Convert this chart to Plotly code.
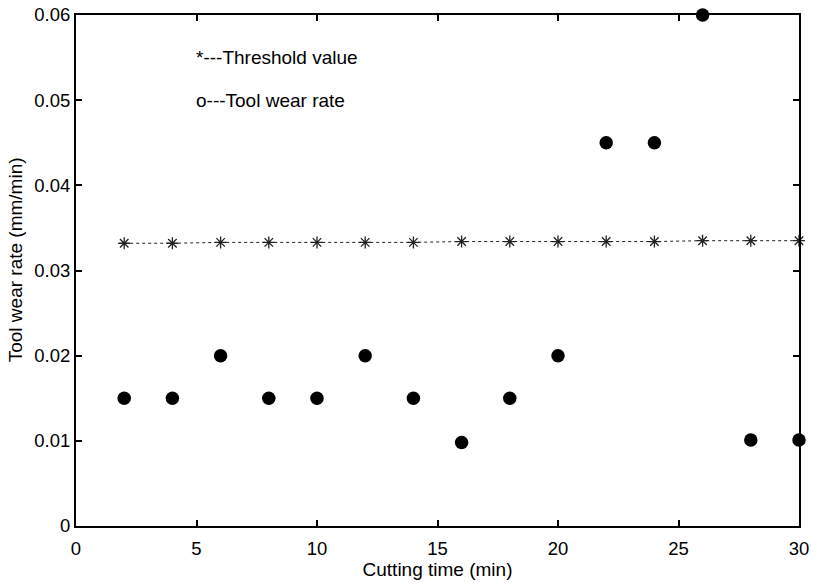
import plotly.graph_objects as go

cutting_time = [2, 4, 6, 8, 10, 12, 14, 16, 18, 20, 22, 24, 26, 28, 30]
wear_rate = [0.015, 0.015, 0.020, 0.015, 0.015, 0.020, 0.015, 0.0098,
             0.015, 0.020, 0.045, 0.045, 0.060, 0.0101, 0.0101]
threshold = [0.0332, 0.0332, 0.0333, 0.0333, 0.0333, 0.0333, 0.0333, 0.0334,
             0.0334, 0.0334, 0.0334, 0.0334, 0.0335, 0.0335, 0.0335]

y_ticks = [0, 0.01, 0.02, 0.03, 0.04, 0.05, 0.06]
y_labels = ["0", "0.01", "0.02", "0.03", "0.04", "0.05", "0.06"]

FONT = "Liberation Sans, Arial, sans-serif"

fig = go.Figure()
fig.add_trace(go.Scatter(
    x=cutting_time, y=threshold, mode="lines+markers",
    line=dict(color="#222", width=1, dash="dot"),
    marker=dict(symbol="asterisk-open", size=10, color="#222",
                line=dict(color="#222", width=1.3)),
    cliponaxis=False, showlegend=False))
fig.add_trace(go.Scatter(
    x=cutting_time, y=wear_rate, mode="markers",
    marker=dict(symbol="circle", size=13.5, color="black"),
    cliponaxis=False, showlegend=False))

fig.add_annotation(x=4.9, y=0.055, text="*---Threshold value", showarrow=False,
                   xanchor="left", yanchor="middle", font=dict(family=FONT, size=19))
fig.add_annotation(x=4.9, y=0.050, text="o---Tool wear rate", showarrow=False,
                   xanchor="left", yanchor="middle", font=dict(family=FONT, size=19))
# y title sits a little above the middle of the axis in the original
fig.add_annotation(x=0, xref="paper", y=0.0312, text="Tool wear rate (mm/min)",
                   textangle=-90, showarrow=False, xanchor="center", yanchor="middle",
                   xshift=-61, font=dict(family=FONT, size=19))

axis = dict(showline=True, linecolor="black", linewidth=2, mirror="ticks",
            ticks="inside", ticklen=6, tickwidth=1.5, tickcolor="black",
            showgrid=False, zeroline=False, automargin=False,
            ticklabeloverflow="allow", tickfont=dict(family=FONT, size=18.5))
fig.update_xaxes(range=[0, 30], dtick=5, ticklabelstandoff=5,
                 title=dict(text="Cutting time (min)", standoff=3,
                            font=dict(family=FONT, size=19)),
                 **axis)
fig.update_yaxes(range=[0, 0.06], tickvals=y_ticks, ticktext=y_labels, **axis)
fig.update_layout(
    width=814, height=583,
    margin=dict(l=76, r=15, t=15, b=57),
    paper_bgcolor="white", plot_bgcolor="white",
    font=dict(family=FONT, size=16, color="black"))
# drop the page's default body margin so the figure sits at the top-left corner
fig.write_html("out.html", config={"displayModeBar": False},
               post_script="document.body.style.margin='0';document.body.style.overflow='hidden';")
